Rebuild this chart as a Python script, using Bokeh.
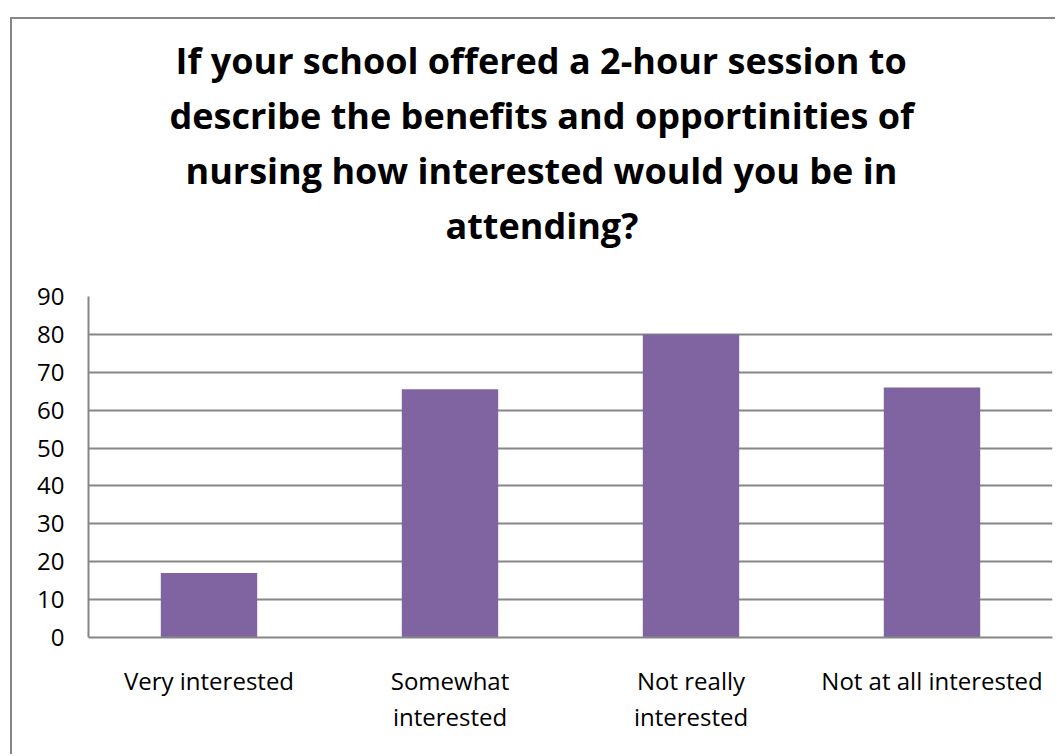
from bokeh.plotting import figure
from bokeh.models import (FactorRange, Range1d, FixedTicker, Title, CategoricalAxis,
                          CustomJSTickFormatter)
from bokeh.layouts import column
from bokeh.embed import file_html
from bokeh.resources import INLINE

# ---- data ----
categories = ["Very interested", "Somewhat interested", "Not really interested", "Not at all interested"]
label_line1 = ["Very interested", "Somewhat", "Not really", "Not at all interested"]
label_line2 = ["", "interested", "interested", ""]
counts = [17, 65.5, 80, 66]
y_ticks = [0, 10, 20, 30, 40, 50, 60, 70, 80, 90]
title_lines = [
    "If your school offered a 2-hour session to",
    "describe the benefits and opportinities of",
    "nursing how interested would you be in",
    "attending?",
]

GRAY = "#868686"
FONT = "Open Sans"

p = figure(
    x_range=FactorRange(*categories),
    y_range=Range1d(0, 90),
    width=1043, height=735,
    output_backend="svg", toolbar_location=None,
    min_border_left=76, min_border_right=3,
    min_border_top=277, min_border_bottom=117,
)
p.outline_line_color = None
p.background_fill_color = "white"
p.border_fill_color = "white"

p.vbar(x=categories, top=counts, width=0.4, fill_color="#8064A2", line_color=None)

p.xgrid.grid_line_color = None
p.ygrid.grid_line_color = GRAY
p.ygrid.grid_line_width = 2
p.ygrid.ticker = FixedTicker(ticks=y_ticks)


def style_axis(ax, standoff):
    ax.axis_line_color = GRAY
    ax.axis_line_width = 2
    ax.major_tick_line_color = None
    ax.minor_tick_line_color = None
    ax.major_tick_in = 0
    ax.major_tick_out = 0
    ax.major_label_standoff = standoff
    ax.major_label_text_font = FONT
    ax.major_label_text_font_size = "24px"
    ax.major_label_text_color = "black"


def line_formatter(lines):
    return CustomJSTickFormatter(
        args=dict(names=categories, lines=lines),
        code="const i = names.indexOf(tick); return i >= 0 ? lines[i] : '';",
    )


ya = p.yaxis[0]
ya.ticker = FixedTicker(ticks=y_ticks)
style_axis(ya, 24)

xa = p.xaxis[0]
style_axis(xa, 26)
xa.formatter = line_formatter(label_line1)

xa2 = CategoricalAxis()
style_axis(xa2, 0)
xa2.axis_line_color = None
xa2.formatter = line_formatter(label_line2)
p.add_layout(xa2, "below")

# spacer between the title block and the plot area
p.add_layout(Title(text=" ", text_font_size="1px", standoff=42), "above")

# title lines, left-aligned at their start positions (added bottom line first)
starts = [87, 81, 97, 357]
for line, off in reversed(list(zip(title_lines, starts))):
    p.add_layout(Title(
        text=line, align="left", offset=off, standoff=4,
        text_font=FONT, text_font_style="bold", text_font_size="36px",
        text_color="black",
    ), "above")

layout = column(
    p, margin=(17, 0, 0, 10),
    styles={"border-left": "2px solid " + GRAY, "border-top": "2px solid " + GRAY},
)

open("out.html", "w").write(file_html(layout, INLINE))
